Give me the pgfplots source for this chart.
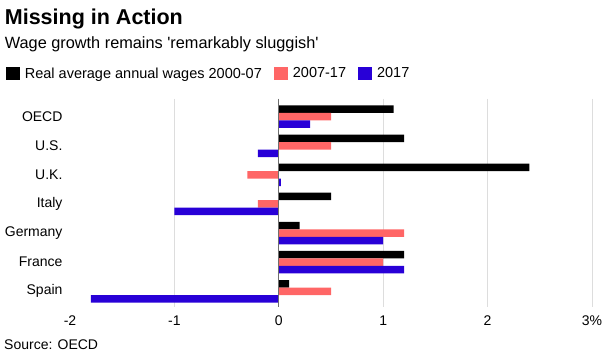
\documentclass[border=0pt]{standalone}
\usepackage{fontspec}
\setmainfont{Liberation Sans}[Ligatures=TeXOff]
\usepackage{pgfplots}
\pgfplotsset{compat=1.18}
\definecolor{cblack}{HTML}{000000}
\definecolor{cred}{HTML}{FF6666}
\definecolor{cblue}{HTML}{2800D7}
\begin{document}
\begin{tikzpicture}
\path[use as bounding box] (-70pt,-47pt) rectangle (545pt,307pt);
\begin{axis}[
  name=ax,
  scale only axis,
  width=522pt, height=208.4pt,
  xmin=-2, xmax=3,
  ymin=-0.62, ymax=6.54,
  y dir=reverse,
  xbar=0pt, bar width=7.5pt,
  axis line style={draw=none},
  major tick length=0pt,
  xtick={-2,-1,0,1,2,3},
  xticklabels={-2,-1,0,1,2,3\%},
  ytick={0,1,2,3,4,5,6},
  yticklabels={OECD,U.S.,U.K.,Italy,Germany,France,Spain},
  /pgf/number format/assume math mode=true,
  tick label style={font=\fontsize{14}{16}\selectfont},
  xticklabel style={yshift=-5pt},
  yticklabel style={xshift=-4pt},
  legend style={at={(-0.1232,1.1204)}, anchor=west, draw=none, fill=none,
    inner sep=0pt, font=\fontsize{14.5}{16}\selectfont,
    /tikz/every odd column/.append style={column sep=3pt},
    /tikz/every even column/.append style={column sep=10pt}},
  legend columns=3,
  legend image code/.code={\fill[#1] (0pt,-6.5pt) rectangle (14pt,6.5pt);},
  clip=false,
]
\foreach \g in {-1,1,2,3} {
  \edef\tmp{\noexpand\draw[color={rgb,255:red,221;green,221;blue,221}, line width=1pt] (axis cs:\g,-0.62) -- (axis cs:\g,6.54);}
  \tmp
}
\addplot[draw=none, fill=cblack, bar shift=7.5pt] coordinates {(1.1,0) (1.2,1) (2.4,2) (0.5,3) (0.2,4) (1.2,5) (0.1,6)};
\addplot[draw=none, fill=cred, bar shift=0pt] coordinates {(0.5,0) (0.5,1) (-0.3,2) (-0.2,3) (1.2,4) (1.0,5) (0.5,6)};
\addplot[draw=none, fill=cblue, bar shift=-7.5pt] coordinates {(0.3,0) (-0.2,1) (0.02,2) (-1.0,3) (1.0,4) (1.2,5) (-1.8,6)};
\legend{Real average annual wages 2000-07, 2007-17, 2017}
\draw[color={rgb,255:red,110;green,110;blue,110}, line width=0.9pt] (axis cs:0,-0.62) -- (axis cs:0,6.54);
\end{axis}
\node[anchor=base west, inner sep=0pt, font=\fontsize{21.5}{24}\selectfont\bfseries] at (-65.3pt,282pt) {Missing in Action};
\node[anchor=base west, inner sep=0pt, font=\fontsize{16.3}{18}\selectfont] at (-65.3pt,258.5pt) {Wage growth remains 'remarkably sluggish'};
\node[anchor=base west, inner sep=0pt, font=\fontsize{14}{16}\selectfont] at (-66pt,-42pt) {Source: OECD};
\end{tikzpicture}
\end{document}
